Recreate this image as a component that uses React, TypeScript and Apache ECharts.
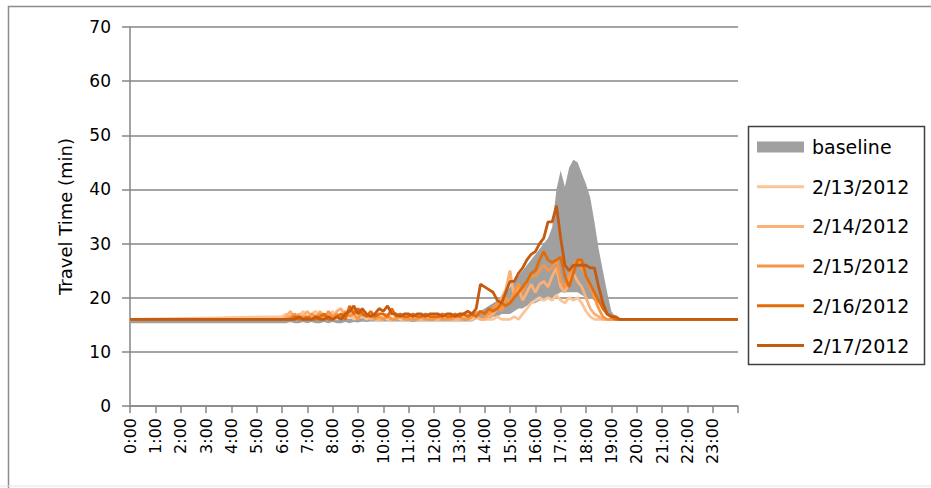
import React, { useEffect, useRef } from "react";
import * as echarts from "echarts";

// time grid in hours: 0:00, then 6:00..20:00 every 10 min, then 24:00
const hours: number[] = [0, ...Array.from({ length: 85 }, (_, i) => 6 + i / 6), 24];

const tickLabels = [
  "0:00", "1:00", "2:00", "3:00", "4:00", "5:00", "6:00", "7:00", "8:00", "9:00", "10:00", "11:00",
  "12:00", "13:00", "14:00", "15:00", "16:00", "17:00", "18:00", "19:00", "20:00", "21:00", "22:00", "23:00",
];

// baseline band (lower and upper edge), min
const baseLow = [
  15.3,
  15.3, 15.3, 15.5, 15.3, 15.3, 15.5,
  15.3, 15.5, 15.3, 15.3, 15.5, 15.3,
  15.5, 15.3, 15.3, 15.5, 15.3, 15.5,
  15.4, 15.6, 15.5, 15.6, 15.6, 15.6,
  15.6, 15.6, 15.6, 15.6, 15.6, 15.6,
  15.6, 15.5, 15.6, 15.6, 15.6, 15.6,
  15.6, 15.6, 15.6, 15.6, 15.6, 15.6,
  15.6, 15.6, 15.6, 15.6, 16, 16,
  16, 16, 16.5, 16.5, 17, 17,
  17, 17.5, 18, 18, 18.5, 19,
  19, 19.5, 19.5, 20, 20, 20.5,
  21, 21, 21, 21, 21, 20.5,
  20, 20, 19.5, 19, 18, 17,
  16.5, 16, 16, 16, 16, 16,
  16,
  16,
];
const baseHigh = [
  16.0,
  16.1, 16.1, 16.2, 16.1, 16.1, 16.2,
  16.1, 16.2, 16.1, 16.1, 16.2, 16.1,
  16.2, 16.1, 16.1, 16.2, 16.1, 16.2,
  16.2, 16.2, 16.2, 16.2, 16.2, 16.2,
  16.2, 16.2, 16.2, 16.2, 16.2, 16.2,
  16.2, 16.2, 16.2, 16.2, 16.2, 16.2,
  16.2, 16.2, 16.2, 16.2, 16.2, 16.2,
  16.5, 16.5, 17, 17, 17.5, 17.5,
  18, 18.5, 19, 19.5, 20, 21,
  22, 23, 24, 25, 26, 27,
  28, 29, 30, 31, 33, 40,
  43.5, 40.5, 44, 45.5, 45, 43,
  41, 38.5, 34, 29, 25, 21,
  17.5, 16.5, 16.2, 16.2, 16.2, 16.2,
  16.2,
  16.0,
];

const d0213 = [
  16,
  16.5, 17, 16, 17, 16.5, 17.5,
  16, 17, 17.5, 16, 17, 16,
  17.5, 16, 17, 16.5, 17.5, 16,
  16.5, 17, 16, 16.5, 16, 16,
  16.5, 16, 16, 16.5, 16, 16,
  16, 16.5, 16, 16, 16, 16.5,
  16, 16, 16.5, 16, 16, 16,
  16, 16.5, 16, 16, 16.5, 16,
  16, 16, 16, 16.5, 16, 16,
  16, 16.5, 16, 17, 18, 19,
  19.5, 20, 19.5, 20, 19.5, 20.5,
  19.5, 19, 20, 19.5, 20, 19,
  17.5, 16.5, 16, 16, 16, 16,
  16, 16, 16, 16, 16, 16,
  16,
  16,
];
const d0214 = [
  16,
  16, 16.5, 17.5, 16, 17, 16.5,
  17.5, 16.5, 16, 17.5, 16.5, 17,
  16, 17.5, 18, 16.5, 17, 18,
  17, 16.5, 17, 16, 16.5, 16,
  16, 17, 16, 16, 16.5, 16,
  16, 16, 16.5, 16, 16, 16,
  16.5, 16, 16, 16, 16.5, 16,
  16, 16, 16.5, 17, 16.5, 16,
  16, 16.5, 17, 18, 20, 21.5,
  25, 20, 22, 19.5, 21, 22.5,
  21, 22.5, 23, 22, 24, 25.5,
  22, 21, 23, 24.5, 23, 22,
  20, 18, 17, 16.5, 16, 16,
  16, 16, 16, 16, 16, 16,
  16,
  16,
];
const d0215 = [
  16,
  16, 16, 16.5, 17, 16, 16.5,
  16, 17, 16.5, 17, 16, 17.5,
  16.5, 17, 16, 17.5, 16.5, 17,
  16, 17.5, 16.5, 17, 16, 16.5,
  16, 16.5, 16, 16, 17, 16,
  16, 16, 16, 16.5, 16, 16,
  16, 16.5, 16, 16, 16, 16.5,
  16.5, 16, 16, 16.5, 17, 17.5,
  16.5, 17, 18, 19, 17.5, 20,
  19, 21, 22.5, 21, 23, 24,
  24, 25, 26, 25, 25.5, 27,
  23, 22, 24, 26, 27, 25.5,
  24, 22, 20, 18, 16.5, 16,
  16, 16, 16, 16, 16, 16,
  16,
  16,
];
const d0216 = [
  16,
  16, 16, 16, 16.5, 16, 16,
  16.5, 16, 16, 16.5, 17, 16,
  16, 16.5, 17, 16, 18.5, 17,
  18, 17, 16.5, 17.5, 16.5, 17,
  17, 16.5, 18, 16.5, 17, 16.5,
  16.5, 17, 16.5, 16.5, 17, 16.5,
  16.5, 16.5, 17, 16.5, 16.5, 17,
  16.5, 17, 16.5, 17, 16.5, 17.5,
  17, 18, 17.5, 18, 19, 18.5,
  19, 20, 21, 22, 23, 24.5,
  25, 27, 28.5, 27, 26.5, 27,
  27.5, 24, 22, 24.5, 27, 27,
  24, 22.5, 21, 19.5, 18, 17,
  16.5, 16, 16, 16, 16, 16,
  16,
  16,
];
const d0217 = [
  16,
  16, 16, 16, 16, 16.5, 16,
  16, 16, 16.5, 16, 16, 16.5,
  16, 16.5, 16, 17, 17.5, 18.5,
  17, 18, 17, 16.5, 17, 18,
  17.5, 18.5, 17, 17, 16.5, 17,
  17, 16.5, 17, 17, 16.5, 17,
  17, 17, 16.5, 17, 17, 16.5,
  17, 17, 17.5, 17, 18, 22.5,
  22, 21.5, 21, 19.5, 19, 21,
  23, 23, 24.5, 25.5, 27, 28,
  28.5, 30, 31, 34, 34, 37,
  31, 26, 25, 26, 26, 26,
  26, 25.5, 25.5, 22, 19, 17,
  16.5, 16.5, 16, 16, 16, 16,
  16,
  16,
];

const lineSeries = [
  { name: "2/13/2012", data: d0213, color: "#FCC597" },
  { name: "2/14/2012", data: d0214, color: "#FAB077" },
  { name: "2/15/2012", data: d0215, color: "#F79646" },
  { name: "2/16/2012", data: d0216, color: "#E36C0A" },
  { name: "2/17/2012", data: d0217, color: "#C55A11" },
];

const FONT = "DejaVu Sans";
const LINE_ICON = "path://M0,0 L47,0 L47,3 L0,3 Z";

export default function App() {
  const ref = useRef<HTMLDivElement>(null);
  useEffect(() => {
    if (!ref.current) return;
    const chart = echarts.init(ref.current, undefined, { renderer: "svg" });
    const pairs = (arr: number[]) => arr.map((v, i) => [hours[i], v]);
    const bandData = hours.map((h, i) => [h, baseLow[i], baseHigh[i]]);
    chart.setOption({
      animation: false,
      backgroundColor: "#ffffff",
      grid: { left: 130, right: 193, top: 27, bottom: 82, containLabel: false },
      xAxis: {
        type: "value",
        min: 0,
        max: 24,
        interval: 1,
        axisLine: { show: true, lineStyle: { color: "#868686", width: 1.5 } },
        axisTick: { show: true, inside: false, length: 7, lineStyle: { color: "#868686", width: 1.5 } },
        splitLine: { show: false },
        axisLabel: {
          rotate: 90,
          margin: 12,
          fontFamily: FONT,
          fontSize: 16,
          color: "#000",
          formatter: (v: number) => (v >= 0 && v < 24 ? tickLabels[v] : ""),
        },
      },
      yAxis: {
        type: "value",
        min: 0,
        max: 70,
        interval: 10,
        name: "Travel Time (min)",
        nameLocation: "middle",
        nameGap: 56,
        nameTextStyle: { fontFamily: FONT, fontSize: 18, color: "#000" },
        axisLine: { show: true, lineStyle: { color: "#868686", width: 1.5 } },
        axisTick: { show: true, inside: false, length: 8, lineStyle: { color: "#868686", width: 1.5 } },
        splitLine: { show: true, lineStyle: { color: "#868686", width: 1.5 } },
        axisLabel: { margin: 19, fontFamily: FONT, fontSize: 17, color: "#000" },
      },
      legend: {
        orient: "vertical",
        left: 752,
        top: 132,
        itemWidth: 47,
        itemHeight: 11,
        itemGap: 19.7,
        symbolKeepAspect: true,
        textStyle: { fontFamily: FONT, fontSize: 19, lineHeight: 20, color: "#000", padding: [0, 0, 0, 3] },
        data: [
          { name: "baseline", icon: "rect" },
          ...lineSeries.map((s) => ({ name: s.name, icon: LINE_ICON })),
        ],
      },
      graphic: [
        {
          type: "rect",
          shape: { x: 8.5, y: 6.5, width: 1000, height: 1000 },
          style: { fill: "none", stroke: "#8c8c8c", lineWidth: 1.5 },
          silent: true,
        },
        {
          type: "line",
          shape: { x1: 0, y1: 486, x2: 931, y2: 486 },
          style: { stroke: "#e4e4e4", lineWidth: 1 },
          silent: true,
        },
        {
          type: "rect",
          shape: { x: 748.5, y: 126.5, width: 176, height: 238 },
          style: { fill: "none", stroke: "#404040", lineWidth: 1.5 },
          silent: true,
        },
      ],
      series: [
        {
          name: "baseline",
          type: "custom",
          data: bandData,
          encode: { x: 0, y: [1, 2] },
          itemStyle: { color: "#A0A0A0" },
          clip: true,
          silent: true,
          renderItem: (params: any, api: any) => {
            if (params.dataIndex !== 0) return null;
            const top = bandData.map((d) => api.coord([d[0], d[2]]));
            const bottom = bandData
              .slice()
              .reverse()
              .map((d) => api.coord([d[0], d[1]]));
            return {
              type: "polygon",
              shape: { points: top.concat(bottom) },
              style: { fill: "#A0A0A0", stroke: "none" },
            };
          },
        },
        ...lineSeries.map((s) => ({
          name: s.name,
          type: "line",
          data: pairs(s.data),
          symbol: "none",
          itemStyle: { color: s.color },
          lineStyle: { color: s.color, width: 2.8 },
        })),
      ],
    });
    return () => chart.dispose();
  }, []);
  return (
    <div
      ref={ref}
      style={{ position: "absolute", left: 0, top: 0, width: 931, height: 488, background: "#fff" }}
    />
  );
}
